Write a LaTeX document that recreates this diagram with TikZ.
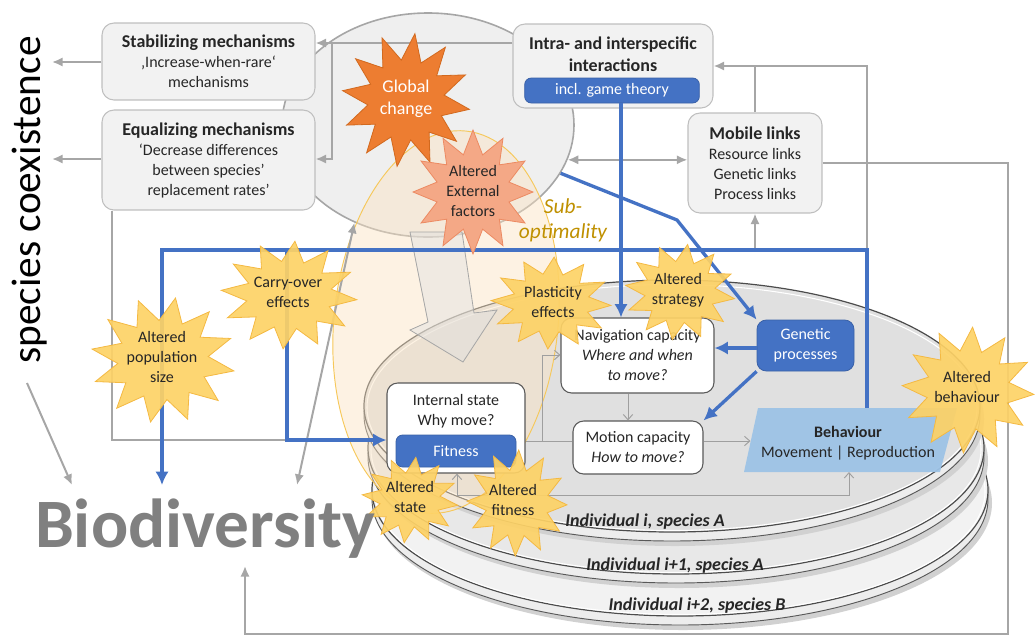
\documentclass[tikz,border=0pt]{standalone}
\usepackage{fontspec}
\setmainfont{Carlito}
\usetikzlibrary{shapes.geometric,arrows.meta}
\definecolor{boxfill}{HTML}{F2F2F2}
\definecolor{boxline}{HTML}{BFBFBF}
\definecolor{conn}{HTML}{A6A6A6}
\definecolor{bl}{HTML}{4472C4}
\definecolor{lbl}{HTML}{9DC3E6}
\definecolor{org}{HTML}{ED7D31}
\definecolor{orgline}{HTML}{D2691E}
\definecolor{salm}{HTML}{F4A886}
\definecolor{salmline}{HTML}{EC8A62}
\definecolor{yel}{HTML}{FDD266}
\definecolor{yelline}{HTML}{F4B942}
\definecolor{gold}{HTML}{BF9000}
\definecolor{txt}{HTML}{262626}
\definecolor{bigell}{HTML}{EFEFEF}
\definecolor{biogray}{HTML}{808080}
\definecolor{subfill}{HTML}{FBE3C2}
\definecolor{subline}{HTML}{F6C85A}
\newcommand{\hdf}{\bfseries\fontsize{13.5}{16.5}\selectfont}
\newcommand{\burst}[7]{\path[#7] plot[variable=\q,samples=25,domain=0:24] ({#1+#3*(#6+(1-#6)*(1+cos(\q*180))/2)*sin(\q*15+#5)},{#2-#4*(#6+(1-#6)*(1+cos(\q*180))/2)*cos(\q*15+#5)}) -- cycle;}
\tikzset{
  body/.style={font=\fontsize{12}{15}\selectfont},
  gbox/.style={draw=boxline, fill=boxfill, rounded corners=9pt, line width=0.8pt, align=center, text=txt, inner sep=0pt, body},
  wbox/.style={draw=black!65, fill=white, rounded corners=8pt, line width=0.8pt, align=center, text=txt, inner sep=0pt, body},
  bbox/.style={draw=bl!85!black, fill=bl, rounded corners=5pt, line width=0.6pt, align=center, text=white, inner sep=0pt, body},
  garrow/.style={draw=conn, line width=1.5pt, -{Latex[length=8pt,width=7pt]}},
  gline/.style={draw=conn, line width=1.5pt},
  tline/.style={draw=gray!75, line width=0.7pt},
  tarrow/.style={draw=gray!75, line width=0.7pt, -{Straight Barb[length=4pt,width=7pt]}},
  barrow/.style={draw=bl, line width=2.5pt, -{Latex[length=10pt,width=10pt]}},
  bline/.style={draw=bl, line width=2.5pt},
  ystar/.style={fill=yel, draw=yelline, line width=0.6pt, fill opacity=0.92},
  stxt/.style={align=center, text=txt, body},
  indiv/.style={font=\bfseries\itshape\fontsize{13.5}{16}\selectfont, text=black!85},
}
\begin{document}
\begin{tikzpicture}[x=0.75pt,y=-0.75pt]
\path[use as bounding box] (0,0) rectangle (1035,637);

% big grey ellipse (global change container)
\node[ellipse, draw=conn, fill=bigell, line width=1.2pt, minimum width=219pt, minimum height=168pt, inner sep=0pt] (gce) at (428,125) {};

% stacked disks
\foreach \cx/\cy/\topc in {680/490/white!95!black, 676/448/white!91!black, 672/406/white!88!black}{
  \fill[black!18] (\cx+3,\cy+13) ellipse [x radius=309, y radius=127];
  \filldraw[fill=white!93!black, draw=black!65, line width=0.7pt] (\cx,\cy+9) ellipse [x radius=308, y radius=126];
  \filldraw[fill=\topc, draw=black!70, line width=0.9pt] (\cx,\cy) ellipse [x radius=308, y radius=126];
  \draw[white, line width=0.8pt] (\cx,\cy+1.5) ellipse [x radius=305, y radius=123];
}

% sub-optimality ellipse
\path[fill=subfill, fill opacity=0.45, draw=subline, line width=0.7pt, rotate around={-6:(446,322)}] (446,322) ellipse [x radius=112, y radius=192];

% big translucent arrow
\path[fill=black!12, fill opacity=0.45, draw=gray!70, line width=0.6pt]
  (410,232) -- (462,232) -- (474,313) -- (497,310) -- (463,362) -- (410,330) -- (428,322) -- cycle;

% boxes
\node[gbox, minimum width=159.75pt, minimum height=57.75pt] (stab) at (208.5,61.5)
  {{\hdf Stabilizing mechanisms}\\‚Increase-when-rare‘\\mechanisms};
\node[gbox, minimum width=159.75pt, minimum height=75pt] (equal) at (208.5,160)
  {{\hdf Equalizing mechanisms}\\‘Decrease differences\\between species’\\replacement rates’};
\node[gbox, minimum width=150pt, minimum height=63pt] (intra) at (613,66) {};
\node[align=center, text=txt, font=\hdf] (intratxt) at (613,54) {Intra- and interspecific\\interactions};
\node[bbox, minimum width=131pt, minimum height=18.75pt] (game) at (612,90.5) {incl. game theory};
\node[gbox, minimum width=100.5pt, minimum height=75pt] (mobile) at (755,163)
  {{\hdf Mobile links}\\Resource links\\Genetic links\\Process links};

\node[wbox, minimum width=114.75pt, minimum height=56.25pt] (nav) at (637.5,355.5)
  {Navigation capacity\\\textit{Where and when}\\\textit{to move?}};
\node[bbox, rounded corners=7pt, minimum width=72.75pt, minimum height=38.25pt] (gen) at (805.5,345.5)
  {Genetic\\processes};
\node[wbox, minimum width=97.5pt, minimum height=39.75pt] (motion) at (638,447.5)
  {Motion capacity\\\textit{How to move?}};
\node[wbox, minimum width=103.5pt, minimum height=67.5pt] (internal) at (456,428) {};
\node[stxt] (inttxt) at (456,411) {Internal state\\Why move?};
\node[bbox, minimum width=90pt, minimum height=24pt] (fit) at (456,451) {Fitness};

\coordinate (bTL) at (758,408); \coordinate (bTR) at (957,408);
\coordinate (bBR) at (940,472); \coordinate (bBL) at (744,472);
\path[fill=lbl, fill opacity=0.95] (bTL) -- (bTR) -- (bBR) -- (bBL) -- cycle;
\node[stxt] (beh) at (848,443) {\textbf{Behaviour}\\Movement | Reproduction};

% named free ends
\coordinate (sc1) at (52,62);
\coordinate (sc2) at (52,159);
\coordinate (j1) at (332,43);
\coordinate (btop) at (867,408);
\coordinate (bleft) at (750.5,441);
\coordinate (bbot) at (849,472);
\coordinate (corner1) at (1008,634);
\coordinate (bioin) at (245,566);
\coordinate (eq1) at (112,440);
\coordinate (bj) at (287,440);
\coordinate (bj2) at (287,250);
\coordinate (bioup) at (297,485);
\coordinate (spst) at (27,383);
\coordinate (sp2) at (72,485);
\coordinate (bluel) at (162,250);
\coordinate (bio2) at (162,485);
\coordinate (bend) at (677,220);
\coordinate (t1) at (542,441);
\coordinate (t2) at (457,495);

% grey connectors
\draw[garrow] (stab.west |- sc1) -- (sc1);
\draw[garrow] (equal.west |- sc2) -- (sc2);
\draw[garrow] (intra.west |- j1) -- (stab.east |- j1);
\draw[garrow] (j1) |- (equal.east |- sc2);
\draw[garrow] (btop) -- (btop |- intra.east) -- (intra.east);
\draw[gline] (mobile.north) -- (mobile.north |- intra.east);
\draw[garrow] (mobile.south |- bj2) -- (mobile.south);
\draw[garrow] (mobile.east) -| (corner1) -| (bioin);
\draw[garrow, {Latex[length=8pt,width=7pt]}-{Latex[length=8pt,width=7pt]}] (gce.-14) -- (mobile.west |- gce.-14);
\draw[gline] (eq1 |- equal.south) -- (eq1) -- (bj);
\draw[garrow, {Latex[length=8pt,width=7pt]}-{Latex[length=8pt,width=7pt]}] (gce.233) -- (bioup);
\draw[garrow] (spst) -- (sp2);

% thin grey connectors in the disk
\draw[tline] (internal.east |- bleft) -- (motion.west |- bleft);
\draw[tarrow] (t1) |- (nav.west |- 0,355);
\draw[tarrow] (628,0 |- nav.south) -- (628,0 |- motion.north);
\draw[tarrow] (motion.east |- bleft) -- (bleft);
\draw[tline, {Straight Barb[length=4pt,width=7pt]}-{Straight Barb[length=4pt,width=7pt]}] (t2 |- internal.south) -- (t2) -| (bbot);

% blue connectors
\draw[barrow] (621,0 |- game.south) -- (621,0 |- nav.north);
\draw[barrow] (gce.-20) -- (bend) -- (gen.north west);
\draw[barrow] (btop) -- (btop |- bj2) -- (bluel) -- (bio2);
\draw[barrow] (bj2) -- (bj) -- (internal.west |- bj);
\draw[barrow] (gen.west |- 0,348) -- (nav.east |- 0,348);
\draw[barrow] (gen.south west) -- (motion.north east);

% stars
\burst{406}{100}{64}{67}{8}{0.6}{fill=org, draw=orgline, line width=0.6pt}
\node[align=center, text=white, font=\fontsize{13.5}{16.5}\selectfont] (gc) at (406,99) {Global\\change};
\burst{473}{192}{60}{62}{0}{0.62}{fill=salm, draw=salmline, line width=0.6pt}
\node[stxt] (ext) at (473,191) {Altered\\External\\factors};
\burst{289}{295}{68}{54}{5}{0.63}{ystar}
\node[stxt] (carry) at (288,292) {Carry-over\\effects};
\burst{163}{360}{72}{63}{10}{0.63}{ystar}
\node[stxt] (pop) at (162,357) {Altered\\population\\size};
\burst{551}{303}{60}{46}{3}{0.64}{ystar}
\node[stxt] (plast) at (553,302) {Plasticity\\effects};
\burst{680}{292}{55}{48}{8}{0.64}{ystar}
\node[stxt] (strat) at (678,290) {Altered\\strategy};
\burst{968}{390}{66}{63}{4}{0.63}{ystar}
\node[stxt] (behav) at (967,387) {Altered\\behaviour};
\burst{410}{500}{48}{43}{7}{0.63}{ystar}
\node[stxt] (state) at (410,497) {Altered\\state};
\burst{517}{503}{50}{53}{2}{0.63}{ystar}
\node[stxt] (afit) at (513,500) {Altered\\fitness};

% labels
\node[align=center, text=gold, font=\itshape\fontsize{16}{19}\selectfont] (subopt) at (563,220) {Sub-\\optimality};
\node[indiv] (ind1) at (645,522) {Individual i, species A};
\node[indiv] (ind2) at (675,566) {Individual i+1, species A};
\node[indiv] (ind3) at (697,606) {Individual i+2, species B};
\node[rotate=90, font=\fontsize{31}{31}\selectfont, text=black] (scx) at (30,200) {species coexistence};
\node[font=\bfseries\fontsize{52}{52}\selectfont, text=biogray, anchor=base] (bio) at (205,547) {Biodiversity};
\end{tikzpicture}
\end{document}
